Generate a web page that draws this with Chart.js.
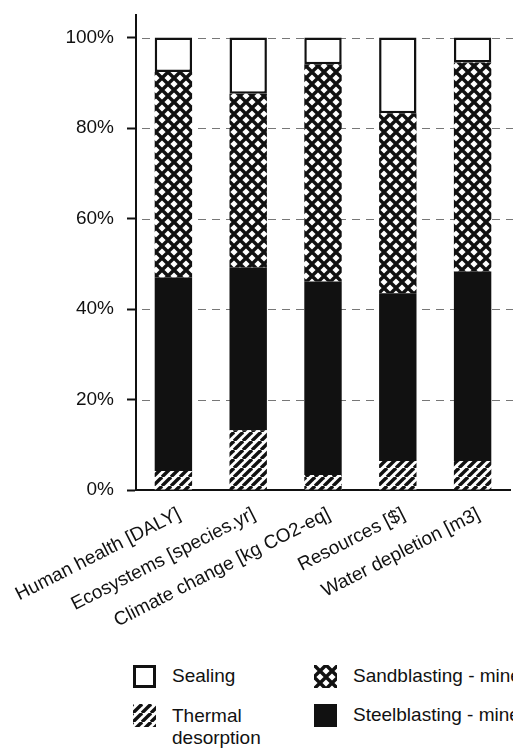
<!DOCTYPE html>
<html>
<head>
<meta charset="utf-8">
<script src="https://cdn.jsdelivr.net/npm/chart.js@4"></script>
<style>
  html, body { margin: 0; padding: 0; background: #fff; }
  #wrap { position: relative; width: 513px; height: 748px; overflow: hidden; font-family: "Liberation Sans", Arial, sans-serif; color: #111; }
  #box { position: absolute; left: 0; top: 0; width: 513px; height: 650px; }
  .item { position: absolute; font-size: 19px; line-height: 22px; white-space: nowrap; }
  .item canvas { position: absolute; left: 0; top: 0; }
  .item span { position: absolute; left: 39px; top: 0; }
</style>
</head>
<body>
<div id="wrap">
  <div id="box"><canvas id="chart"></canvas></div>
  <div class="item" style="left:133px;top:665px"><canvas id="sw0" width="24" height="24"></canvas><span>Sealing</span></div>
  <div class="item" style="left:133px;top:704px"><canvas id="sw1" width="24" height="24"></canvas><span style="top:1px">Thermal<br>desorption</span></div>
  <div class="item" style="left:314px;top:665px"><canvas id="sw2" width="24" height="24"></canvas><span>Sandblasting - mineral</span></div>
  <div class="item" style="left:314px;top:704px"><canvas id="sw3" width="24" height="24"></canvas><span>Steelblasting - mineral</span></div>
</div>
<script>
const categories = ['Human health [DALY]', 'Ecosystems [species.yr]', 'Climate change [kg CO2-eq]', 'Resources [$]', 'Water depletion [m3]'];
// shares in %, bottom to top
const thermal = [4.2, 13.2, 3.3, 6.4, 6.4];
const steel = [42.8, 36.0, 42.8, 37.1, 41.9];
const sand = [45.4, 38.4, 48.0, 39.8, 46.2];
const sealing = [7.6, 12.4, 5.9, 16.7, 5.5];
const yTicks = [0, 20, 40, 60, 80, 100];

const ink = '#111';

function stripes() {
  const s = 9, c = document.createElement('canvas');
  c.width = s; c.height = s;
  const g = c.getContext('2d');
  g.fillStyle = '#fff'; g.fillRect(0, 0, s, s);
  g.strokeStyle = ink; g.lineWidth = 3.4;
  for (let k = -1; k <= 1; k++) {
    g.beginPath(); g.moveTo(k * s, s); g.lineTo(k * s + s, 0); g.stroke();
  }
  return g.createPattern(c, 'repeat');
}

function crosshatch() {
  const s = 12, c = document.createElement('canvas');
  c.width = s; c.height = s;
  const g = c.getContext('2d');
  g.fillStyle = '#fff'; g.fillRect(0, 0, s, s);
  g.strokeStyle = ink; g.lineWidth = 3.4;
  for (let k = -1; k <= 1; k++) {
    g.beginPath(); g.moveTo(k * s, 0); g.lineTo(k * s + s, s); g.stroke();
    g.beginPath(); g.moveTo(k * s, s); g.lineTo(k * s + s, 0); g.stroke();
  }
  return g.createPattern(c, 'repeat');
}

const stripeFill = stripes();
const hatchFill = crosshatch();
const tickFont = { family: 'Liberation Sans', size: 19 };

new Chart(document.getElementById('chart'), {
  type: 'bar',
  data: {
    labels: categories,
    datasets: [
      { label: 'Thermal desorption', data: thermal, backgroundColor: stripeFill },
      { label: 'Steelblasting - mineral', data: steel, backgroundColor: ink },
      { label: 'Sandblasting - mineral', data: sand, backgroundColor: hatchFill },
      { label: 'Sealing', data: sealing, backgroundColor: '#fff', borderColor: ink, borderWidth: 2.5, borderSkipped: false }
    ]
  },
  options: {
    responsive: true,
    maintainAspectRatio: false,
    animation: false,
    layout: { padding: { top: 15, right: 3, bottom: 0, left: 0 } },
    datasets: { bar: { barPercentage: 0.5, categoryPercentage: 1 } },
    plugins: { legend: { display: false }, tooltip: { enabled: false } },
    scales: {
      x: {
        stacked: true,
        grid: { display: false },
        border: { display: true, color: ink, width: 2 },
        ticks: { color: ink, font: tickFont, minRotation: 27, maxRotation: 27, padding: 5, labelOffset: 6 },
        afterFit: s => { s.height = 160; s.paddingLeft = 0; s.paddingRight = 0; }
      },
      y: {
        stacked: true,
        min: 0,
        max: 105,
        border: { display: true, color: ink, width: 2 },
        grid: { drawOnChartArea: false, tickColor: ink, tickLength: 9, tickWidth: 2 },
        ticks: { color: ink, font: tickFont, padding: 13, callback: v => v + '%' },
        afterBuildTicks: s => { s.ticks = yTicks.map(v => ({ value: v })); },
        afterFit: s => { s.width = 136; s.paddingTop = 0; s.paddingBottom = 0; }
      }
    }
  },
  plugins: [{
    id: 'dashGrid',
    beforeDatasetsDraw(chart) {
      // dashed horizontal guides behind the bars
      const { ctx, chartArea, scales } = chart;
      ctx.save();
      ctx.strokeStyle = '#777'; ctx.lineWidth = 1; ctx.setLineDash([8, 6]);
      yTicks.slice(1).forEach(v => {
        const y = Math.round(scales.y.getPixelForValue(v)) + 0.5;
        ctx.beginPath(); ctx.moveTo(chartArea.left + 6, y); ctx.lineTo(513, y); ctx.stroke();
      });
      ctx.restore();
    }
  }]
});

// legend swatches
function swatch(id, fill, outline) {
  const g = document.getElementById(id).getContext('2d');
  g.fillStyle = fill; g.fillRect(0, 0, 23, 23);
  if (outline) { g.strokeStyle = ink; g.lineWidth = 3; g.strokeRect(1.5, 1.5, 20, 20); }
}
swatch('sw0', '#fff', true);
swatch('sw1', stripes(), false);
swatch('sw2', crosshatch(), false);
swatch('sw3', ink, false);
</script>
</body>
</html>
